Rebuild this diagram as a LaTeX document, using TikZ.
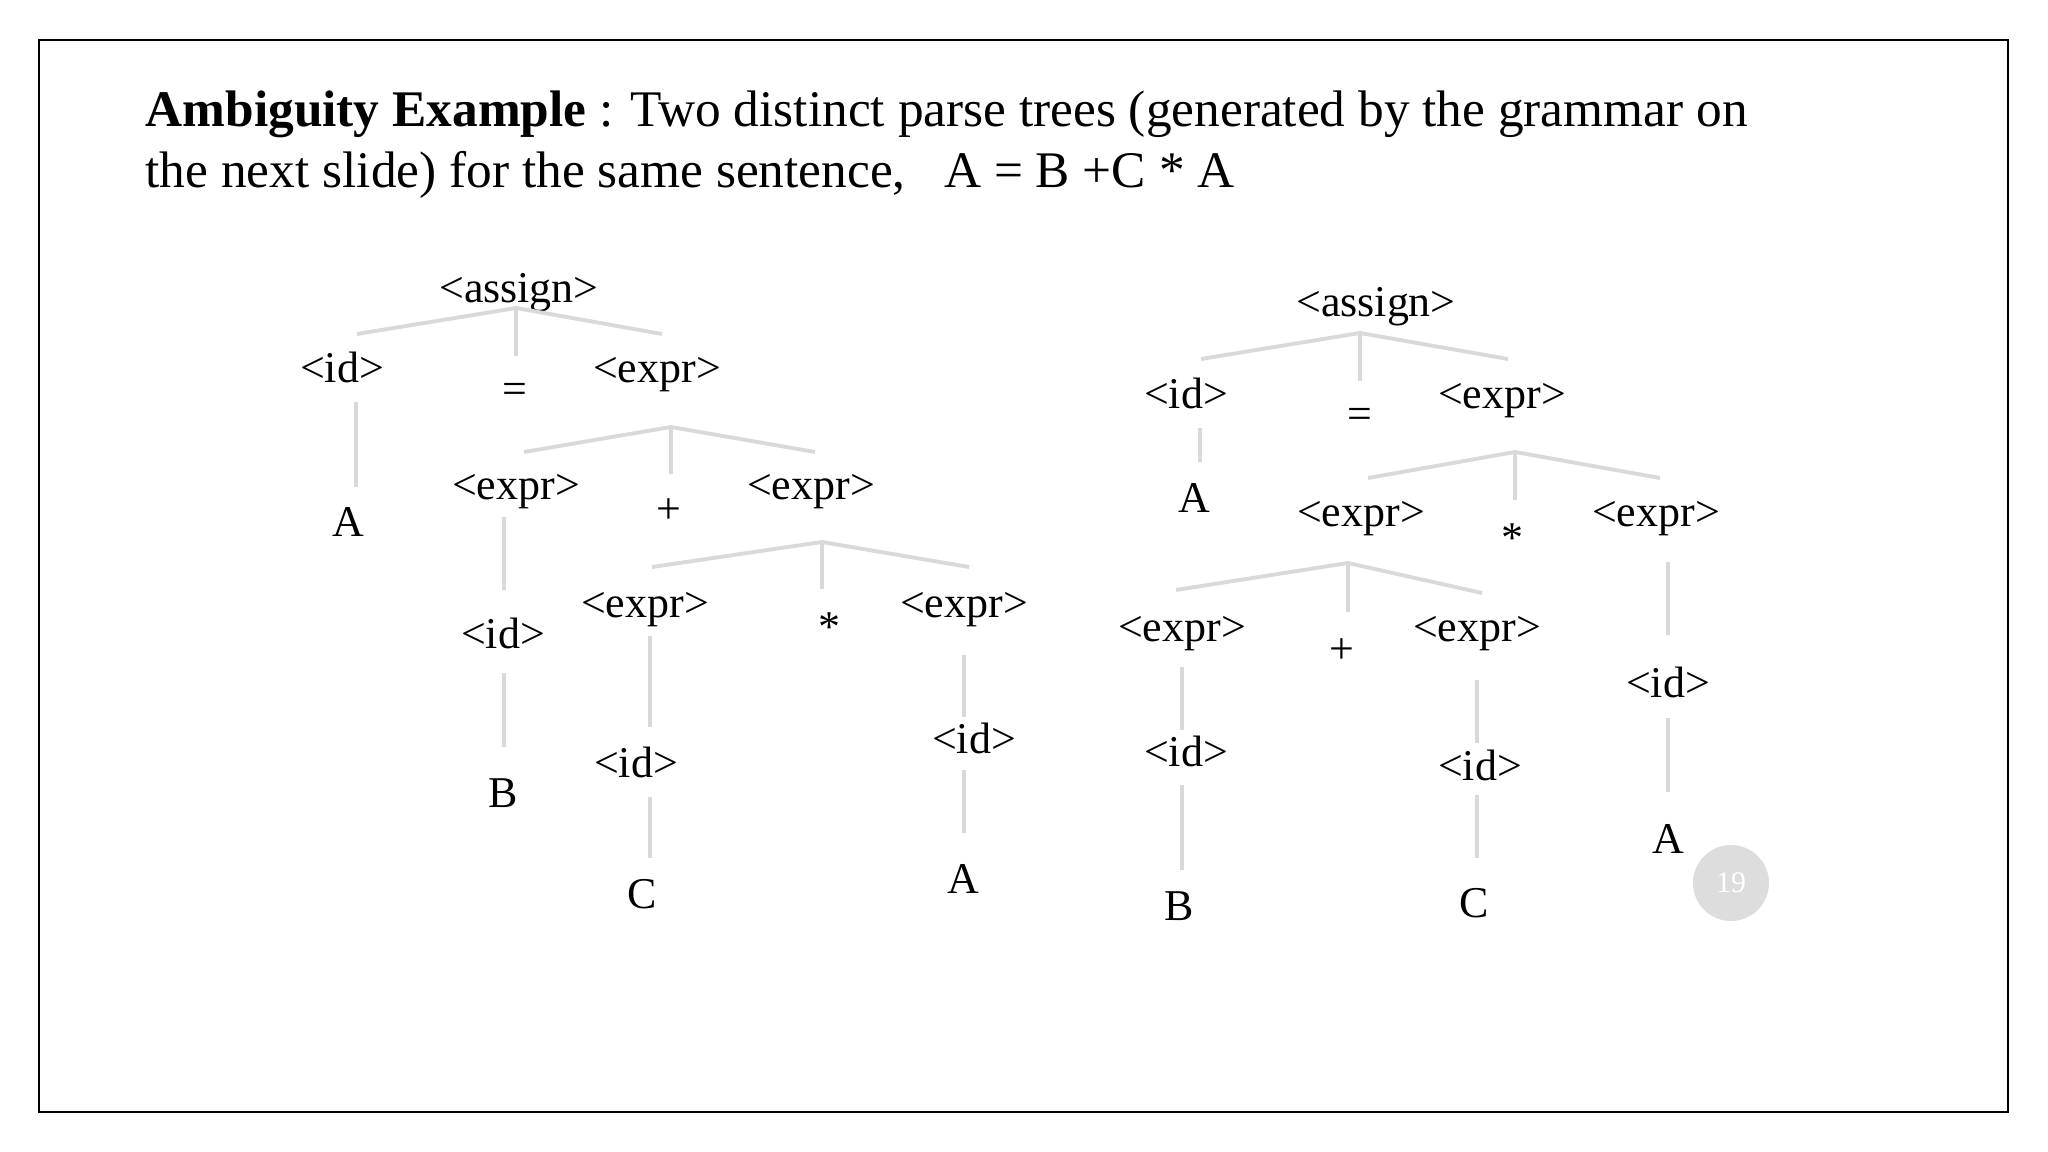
\documentclass[tikz,border=0pt]{standalone}
\usepackage{fontspec}
\setmainfont{Liberation Serif}
\definecolor{linegray}{HTML}{D9D9D9}
\definecolor{dotgray}{HTML}{DDDDDD}
\tikzset{
	sym/.style = {anchor=base, inner sep=0pt, font=\fontsize{12.5}{15}\selectfont},
	branch/.style = {draw=linegray, line width=1.1pt},
	headline/.style = {anchor=base west, inner sep=0pt, font=\fontsize{14.6}{17}\selectfont}
}
\begin{document}
\begin{tikzpicture}[x=0.01cm, y=-0.01cm]
	\useasboundingbox (0,0) rectangle (2048,1152);
	\draw [line width=0.6pt] (39,40) rectangle (2008,1112);
	\node [headline] (title1) at (145,127) {\textbf{Ambiguity Example} : Two distinct parse trees (generated by the grammar on};
	\node [headline] (title2) at (145,188) {the next slide) for the same sentence,\ \ \ A = B +C * A};
	% left tree: B + (C * A)
	\node [sym] (lassign) at (519,303) {<assign>};
	\node [sym] (lid) at (342,383) {<id>};
	\node [sym] (leq) at (515,404) {=};
	\node [sym] (lexpr) at (657,383) {<expr>};
	\node [sym] (lA) at (348,537) {A};
	\node [sym] (le1) at (516,500) {<expr>};
	\node [sym] (lplus) at (669,524) {+};
	\node [sym] (le2) at (811,500) {<expr>};
	\node [sym] (lid1) at (503,648) {<id>};
	\node [sym] (lB) at (503,807) {B};
	\node [sym] (le3) at (645,617) {<expr>};
	\node [sym] (lstar) at (829,642) {*};
	\node [sym] (le4) at (964,617) {<expr>};
	\node [sym] (lid2) at (636,777) {<id>};
	\node [sym] (lC) at (642,908) {C};
	\node [sym] (lid3) at (974,753) {<id>};
	\node [sym] (lA2) at (963,893) {A};
	\foreach \n/\x/\y in {la/516/308, la1/357/334, la2/516/356, la3/662/334,
		lb1/356/402, lb2/356/487,
		lc/671/427, lc1/524/452, lc2/671/474, lc3/815/452,
		ld1/504/517, ld2/504/590, ld3/504/673, ld4/504/747,
		le/822/542, le1a/652/567, le2a/822/589, le3a/969/567,
		lf1/650/636, lf2/650/727, lf3/650/797, lf4/650/858,
		lg1/964/655, lg2/964/717, lg3/964/770, lg4/964/833}
		\coordinate (\n) at (\x,\y);
	\draw [branch] (la1) -- (la) -- (la3);
	\draw [branch] (la) -- (la2);
	\draw [branch] (lb1) -- (lb2);
	\draw [branch] (lc1) -- (lc) -- (lc3);
	\draw [branch] (lc) -- (lc2);
	\draw [branch] (ld1) -- (ld2);
	\draw [branch] (ld3) -- (ld4);
	\draw [branch] (le1a) -- (le) -- (le3a);
	\draw [branch] (le) -- (le2a);
	\draw [branch] (lf1) -- (lf2);
	\draw [branch] (lf3) -- (lf4);
	\draw [branch] (lg1) -- (lg2);
	\draw [branch] (lg3) -- (lg4);
	% right tree: (B + C) * A
	\node [sym] (rassign) at (1376,317) {<assign>};
	\node [sym] (rid) at (1186,409) {<id>};
	\node [sym] (req) at (1360,429) {=};
	\node [sym] (rexpr) at (1502,409) {<expr>};
	\node [sym] (rA) at (1194,512) {A};
	\node [sym] (re1) at (1361,527) {<expr>};
	\node [sym] (rstar) at (1512,553) {*};
	\node [sym] (re2) at (1656,527) {<expr>};
	\node [sym] (re3) at (1182,642) {<expr>};
	\node [sym] (rplus) at (1342,663) {+};
	\node [sym] (re4) at (1477,642) {<expr>};
	\node [sym] (rid1) at (1186,766) {<id>};
	\node [sym] (rB) at (1179,920) {B};
	\node [sym] (rid2) at (1480,780) {<id>};
	\node [sym] (rC) at (1474,917) {C};
	\node [sym] (rid3) at (1668,697) {<id>};
	\node [sym] (rA2) at (1668,853) {A};
	\foreach \n/\x/\y in {ra/1360/333, ra1/1201/359, ra2/1360/381, ra3/1508/359,
		rb1/1200/428, rb2/1200/462,
		rc/1515/452, rc1/1368/478, rc2/1515/500, rc3/1660/478,
		rd/1348/563, rd1/1176/590, rd2/1348/612, rd3/1482/593,
		rf1/1668/562, rf2/1668/635, rf3/1668/718, rf4/1668/792,
		rg1/1182/667, rg2/1182/730, rg3/1182/785, rg4/1182/870,
		rh1/1477/680, rh2/1477/743, rh3/1477/795, rh4/1477/858}
		\coordinate (\n) at (\x,\y);
	\draw [branch] (ra1) -- (ra) -- (ra3);
	\draw [branch] (ra) -- (ra2);
	\draw [branch] (rb1) -- (rb2);
	\draw [branch] (rc1) -- (rc) -- (rc3);
	\draw [branch] (rc) -- (rc2);
	\draw [branch] (rd1) -- (rd) -- (rd3);
	\draw [branch] (rd) -- (rd2);
	\draw [branch] (rf1) -- (rf2);
	\draw [branch] (rf3) -- (rf4);
	\draw [branch] (rg1) -- (rg2);
	\draw [branch] (rg3) -- (rg4);
	\draw [branch] (rh1) -- (rh2);
	\draw [branch] (rh3) -- (rh4);
	% slide number
	\node [circle, fill=dotgray, minimum size=0.76cm, inner sep=0pt, text=white, font=\fontsize{8.5}{10}\selectfont] (pagenum) at (1731,883) {19};
\end{tikzpicture}
\end{document}
